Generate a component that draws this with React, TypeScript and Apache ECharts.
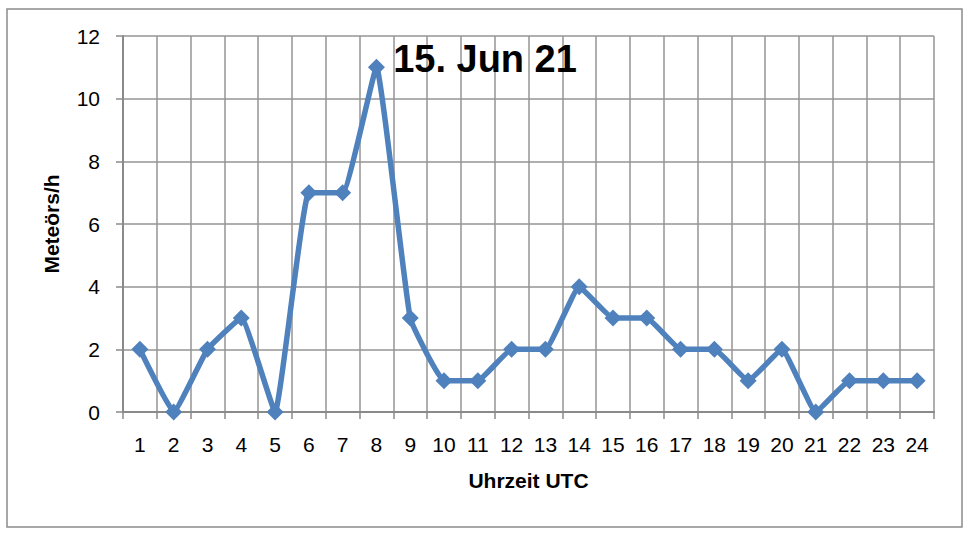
import React, { useEffect, useRef } from "react";
import * as echarts from "echarts";

const hours = ["1","2","3","4","5","6","7","8","9","10","11","12","13","14","15","16","17","18","19","20","21","22","23","24"];
const meteors = [2, 0, 2, 3, 0, 7, 7, 11, 3, 1, 1, 2, 2, 4, 3, 3, 2, 2, 1, 2, 0, 1, 1, 1];
const titleText = "15. Jun 21";
const xTitle = "Uhrzeit UTC";
const yTitle = "Meteörs/h";

const FONT = "'Liberation Sans', Arial, sans-serif";

export default function App() {
  const ref = useRef<HTMLDivElement>(null);
  useEffect(() => {
    document.body.style.margin = "0";
    const chart = echarts.init(ref.current!, null, { renderer: "svg" });
    chart.setOption({
      animation: false,
      backgroundColor: "#ffffff",
      title: {
        text: titleText,
        left: 480,
        top: 35,
        textAlign: "center",
        textStyle: { fontFamily: FONT, fontSize: 38, fontWeight: "bold", color: "#000" },
      },
      grid: { left: 123, right: 34, top: 36, bottom: 122 },
      xAxis: {
        type: "category",
        data: hours,
        boundaryGap: true,
        name: xTitle,
        nameLocation: "middle",
        nameGap: 58,
        nameTextStyle: { fontFamily: FONT, fontSize: 21, fontWeight: "bold", color: "#000" },
        axisLine: { lineStyle: { color: "#8a8a8a", width: 2 } },
        axisTick: { show: true, interval: 0, length: 7, lineStyle: { color: "#8a8a8a", width: 1.5 } },
        axisLabel: { interval: 0, margin: 22, fontFamily: FONT, fontSize: 21, color: "#000" },
        splitLine: { show: true, interval: 0, lineStyle: { color: "#959595", width: 1.5 } },
      },
      yAxis: {
        type: "value",
        min: 0,
        max: 12,
        interval: 2,
        name: yTitle,
        nameLocation: "middle",
        nameGap: 61,
        nameRotate: 90,
        nameTextStyle: { fontFamily: FONT, fontSize: 21, fontWeight: "bold", color: "#000" },
        axisLine: { show: true, lineStyle: { color: "#8a8a8a", width: 2 } },
        axisTick: { show: true, length: 7, lineStyle: { color: "#8a8a8a", width: 1.5 } },
        axisLabel: { margin: 23, fontFamily: FONT, fontSize: 21, color: "#000" },
        splitLine: { show: true, lineStyle: { color: "#959595", width: 1.5 } },
      },
      graphic: [
        {
          type: "rect",
          shape: { x: 7, y: 9, width: 955, height: 518 },
          style: { fill: "none", stroke: "#8c8c8c", lineWidth: 1.5 },
          silent: true,
          z: -1,
        },
      ],
      series: [
        {
          type: "line",
          data: meteors,
          smooth: 0.1,
          symbol: "diamond",
          symbolSize: 17,
          lineStyle: { color: "#4F81BD", width: 5.5 },
          itemStyle: { color: "#4F81BD" },
          z: 5,
        },
      ],
    });
    return () => chart.dispose();
  }, []);
  return <div ref={ref} style={{ width: 968, height: 534 }} />;
}
